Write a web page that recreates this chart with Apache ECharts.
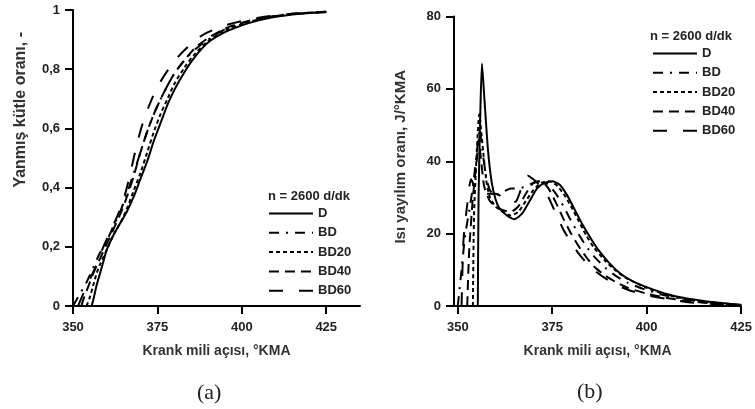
<!DOCTYPE html>
<html>
<head>
<meta charset="utf-8">
<script src="https://cdn.jsdelivr.net/npm/echarts@6/dist/echarts.min.js"></script>
<style>
html,body{margin:0;padding:0;background:#fff;}
#c{width:755px;height:409px;}
</style>
</head>
<body>
<div id="c"></div>
<script>
// ---------- Data ----------
var seriesNames = ['D', 'BD', 'BD20', 'BD40', 'BD60'];
var xTicks = [350, 375, 400, 425];
var yTicksA = [0, 0.2, 0.4, 0.6, 0.8, 1];
var yTicksB = [0, 20, 40, 60, 80];

// (a) burned mass fraction
var mfbD_x    = [355.5,356,357,358,359,360,362,364,366,368,370,372,374,376,378,380,383,386,390,395,400,405,410,415,420,425];
var mfbD_y    = [0,0.02,0.07,0.11,0.15,0.19,0.24,0.28,0.32,0.37,0.43,0.49,0.56,0.62,0.68,0.73,0.79,0.84,0.89,0.925,0.948,0.965,0.977,0.985,0.99,0.993];
var mfbBD_x   = [350,351,352,353,354,356,358,360,362,364,366,368,370,372,374,376,378,380,383,386,390,395,400,405,410,415,420,425];
var mfbBD_y   = [0,0.02,0.04,0.06,0.08,0.13,0.18,0.22,0.27,0.32,0.38,0.45,0.52,0.59,0.65,0.70,0.745,0.785,0.83,0.865,0.9,0.935,0.955,0.97,0.98,0.987,0.991,0.994];
var mfbBD20_x = [354,355,356,357,358,360,362,364,366,368,370,372,374,376,378,380,383,386,390,395,400,405,410,415,420,425];
var mfbBD20_y = [0,0.03,0.07,0.11,0.14,0.19,0.24,0.28,0.33,0.39,0.45,0.52,0.59,0.65,0.70,0.75,0.805,0.85,0.895,0.93,0.952,0.968,0.979,0.986,0.99,0.993];
var mfbBD40_x = [352.5,353,354,355,356,358,360,362,364,366,368,370,372,374,376,378,380,383,386,390,395,400,405,410,415,420,425];
var mfbBD40_y = [0,0.02,0.05,0.08,0.11,0.16,0.21,0.26,0.31,0.37,0.44,0.52,0.59,0.65,0.70,0.745,0.785,0.83,0.87,0.905,0.937,0.957,0.971,0.98,0.987,0.991,0.994];
var mfbBD60_x = [351.5,353,355,357,359,361,363,365,367,369,371,373,375,378,381,384,387,390,395,400,405,410,415,420,425];
var mfbBD60_y = [0,0.04,0.09,0.14,0.2,0.25,0.3,0.36,0.45,0.55,0.63,0.69,0.74,0.795,0.84,0.875,0.905,0.925,0.948,0.963,0.974,0.982,0.987,0.99,0.993];

// (b) heat release rate
var hrD_x    = [355.3,355.5,356,356.4,357,358,359,360,361,363,365,367,369,371,373,375,377,379,381,383,385,387,390,393,396,400,405,410,415,420,425];
var hrD_y    = [0,30,55,67,58,43,34,29.5,27,25,24,25.5,29,32.5,34,34.5,33.5,30.5,26.5,22.5,19,15.8,12,9,7,5.2,3.4,2.2,1.4,0.8,0.3];
var hrBD_x   = [350,351,352,353,354,355,355.8,356.5,357.5,358.5,360,362,364,366,368,370,372,374,376,378,380,382,384,386,389,392,395,400,405,410,415,420,425];
var hrBD_y   = [0,10,20,26,33,42,49,43,36,32,30.5,31.5,32.5,32.5,33,34,34.5,33.5,31,27.5,23.5,19.8,16.5,13.8,10.6,8.2,6.4,4.4,2.9,1.9,1.2,0.7,0.3];
var hrBD20_x = [354,354.3,355,355.7,356.5,357.5,358.5,360,362,364,366,368,370,372,374,376,378,380,382,384,386,389,392,395,400,405,410,415,420,425];
var hrBD20_y = [0,25,42,53,45,35,30,27.5,26,25,26,29,32,34,34.5,33.5,31,27.5,23.5,19.5,16.2,12.5,9.6,7.5,5,3.2,2,1.2,0.7,0.3];
var hrBD40_x = [352.5,353,354,355,355.5,356.2,357,358.5,360,362,364,366,368,370,372,374,376,378,380,382,384,386,389,392,395,400,405,410,415,420,425];
var hrBD40_y = [0,15,30,40,46,40,33,29,27.5,26.5,26,27.5,31,34,34.5,32.5,28.5,24,20,16.5,13.5,11,8.4,6.5,5,3.4,2.3,1.5,0.9,0.5,0.2];
var hrBD60_x = [351,351.5,352.5,353.5,354.5,356,358,360,362,364,365.5,367,368.5,370,372,374,376,378,380,382,384,386,388,391,395,400,405,410,415,420,425];
var hrBD60_y = [0,18,28,35,33,31.5,31,31,30,28.5,29,33,36,35,33,30,25.5,21,17.5,14.5,12,10,8.4,6.4,4.5,3,2,1.2,0.7,0.4,0.2];

// ---------- Build ----------
function pairs(xs, ys){ var out=[]; for(var i=0;i<xs.length;i++){ out.push([xs[i], ys[i]]); } return out; }
var dashes = {
  'D': 'solid',
  'BD': [10, 7, 2, 7],
  'BD20': [4, 3],
  'BD40': [10, 6],
  'BD60': [14, 16]
};
var mfbData = {
  'D': pairs(mfbD_x, mfbD_y), 'BD': pairs(mfbBD_x, mfbBD_y), 'BD20': pairs(mfbBD20_x, mfbBD20_y),
  'BD40': pairs(mfbBD40_x, mfbBD40_y), 'BD60': pairs(mfbBD60_x, mfbBD60_y)
};
var hrData = {
  'D': pairs(hrD_x, hrD_y), 'BD': pairs(hrBD_x, hrBD_y), 'BD20': pairs(hrBD20_x, hrBD20_y),
  'BD40': pairs(hrBD40_x, hrBD40_y), 'BD60': pairs(hrBD60_x, hrBD60_y)
};

var FF = 'Liberation Sans, Arial, sans-serif';
var labelFont = {fontFamily: FF, fontWeight: 'bold', fontSize: 13, color: '#222'};
function axisCommon(){
  return {
    axisLine: {show: true, onZero: false, lineStyle: {color: '#000', width: 2}},
    splitLine: {show: false}
  };
}
function mkX(idx, min, max, nameText){
  var a = axisCommon();
  return Object.assign(a, {
    type: 'value', gridIndex: idx, min: min, max: max,
    name: nameText, nameLocation: 'middle', nameGap: 38,
    nameTextStyle: {fontFamily: FF, fontWeight: 'bold', fontSize: 14, color: '#333'},
    axisTick: {show: true, length: 8, customValues: xTicks, lineStyle: {color: '#000', width: 2}},
    axisLabel: Object.assign({customValues: xTicks, margin: 15}, labelFont)
  });
}
function mkY(idx, min, max, ticks, fmt){
  var a = axisCommon();
  return Object.assign(a, {
    type: 'value', gridIndex: idx, min: min, max: max,
    axisTick: {show: true, length: 8, customValues: ticks, lineStyle: {color: '#000', width: 2}},
    axisLabel: Object.assign({customValues: ticks, margin: 13, formatter: fmt}, labelFont)
  });
}

var series = [];
seriesNames.forEach(function(n){
  series.push({name: n, type: 'line', xAxisIndex: 0, yAxisIndex: 0, data: mfbData[n], symbol: 'none', smooth: 0.3,
    lineStyle: {color: '#000', width: 2, type: dashes[n]}, itemStyle: {color: '#000'}, animation: false});
});
seriesNames.forEach(function(n){
  series.push({name: n, type: 'line', xAxisIndex: 1, yAxisIndex: 1, data: hrData[n], symbol: 'none', smooth: 0.2,
    lineStyle: {color: '#000', width: 2, type: dashes[n]}, itemStyle: {color: '#000'}, animation: false});
});

var legendText = {fontFamily: FF, fontWeight: 'bold', fontSize: 13, color: '#222'};
var legendCommon = {orient: 'vertical', itemWidth: 44, itemHeight: 14, itemGap: 6.3, data: seriesNames,
  textStyle: legendText, selectedMode: false, itemStyle: {opacity: 0}};
var option = {
  animation: false,
  backgroundColor: '#fff',
  grid: [
    {left: 73, top: 10, width: 287, height: 296},
    {left: 454, top: 16.5, width: 291, height: 289.5}
  ],
  xAxis: [
    mkX(0, 350, 435, 'Krank mili açısı, °KMA'),
    mkX(1, 349, 425, 'Krank mili açısı, °KMA')
  ],
  yAxis: [
    mkY(0, 0, 1, yTicksA, function(v){ return String(v).replace('.', ','); }),
    mkY(1, 0, 80, yTicksB, function(v){ return String(v); })
  ],
  title: [
    {text: 'n = 2600 d/dk', left: 263, top: 185, textStyle: {fontFamily: FF, fontWeight: 'bold', fontSize: 13, color: '#222'}},
    {text: 'n = 2600 d/dk', left: 645, top: 25, textStyle: {fontFamily: FF, fontWeight: 'bold', fontSize: 13, color: '#222'}},
    {text: '(a)', left: 192, top: 377, textStyle: {fontFamily: 'Liberation Serif, DejaVu Serif, serif', fontWeight: 'normal', fontSize: 22, color: '#222'}},
    {text: '(b)', left: 572, top: 376, textStyle: {fontFamily: 'Liberation Serif, DejaVu Serif, serif', fontWeight: 'normal', fontSize: 22, color: '#222'}}
  ],
  legend: [
    Object.assign({left: 263, top: 202}, legendCommon),
    Object.assign({left: 647, top: 42}, legendCommon)
  ],
  graphic: [
    {type: 'text', left: 13, top: 32, rotation: Math.PI/2, style: {text: 'Yanmış kütle oranı, -', font: 'bold 16px Liberation Sans, Arial, sans-serif', fill: '#333'}},
    {type: 'text', left: 393, top: 70, rotation: Math.PI/2, style: {text: 'Isı yayılım oranı, J/°KMA', font: 'bold 15px Liberation Sans, Arial, sans-serif', fill: '#333'}}
  ],
  series: series
};
var chart = echarts.init(document.getElementById('c'), null, {renderer: 'canvas'});
chart.setOption(option);
</script>
</body>
</html>
